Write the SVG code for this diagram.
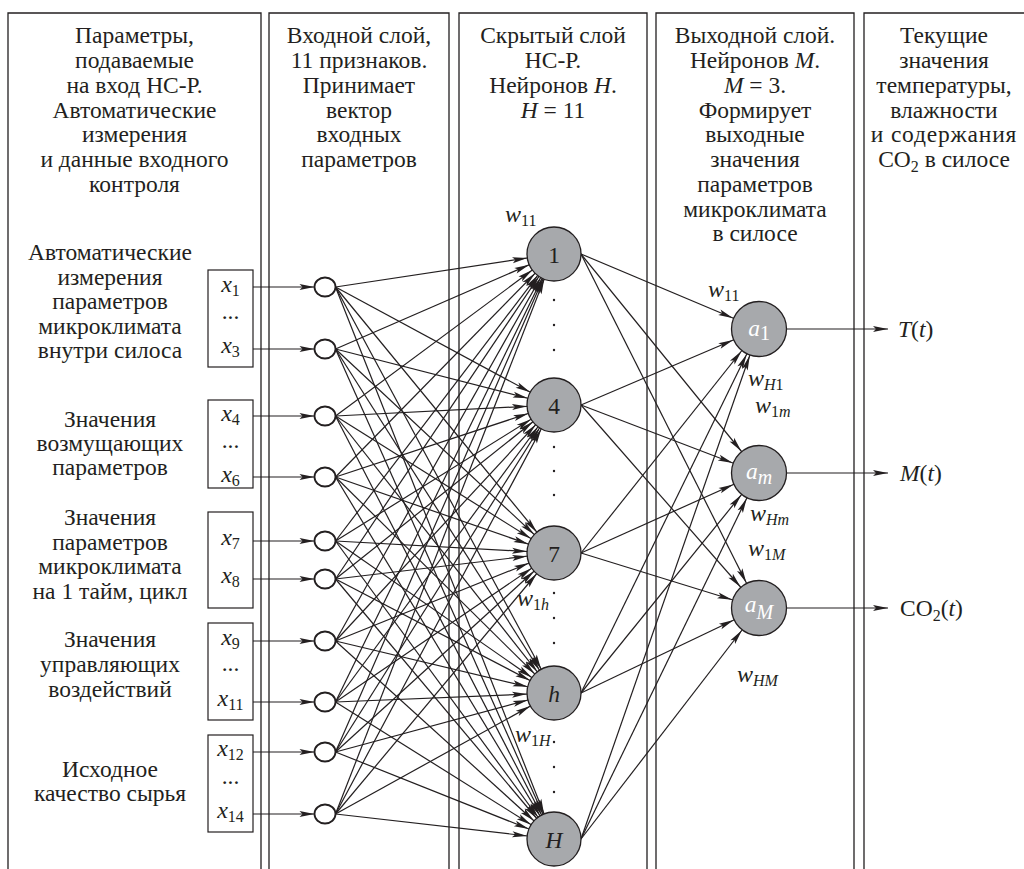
<svg xmlns="http://www.w3.org/2000/svg" width="1024" height="869" viewBox="0 0 1024 869">
<style>
text{font-family:"Liberation Serif","Times New Roman",serif;font-size:23.5px;fill:#231f20}
.c{text-anchor:middle}
.i{font-style:italic}
.sb{font-size:16px;font-style:normal}
.si{font-size:16px;font-style:italic}
.xl{font-size:24px;font-style:italic}
.wl{font-size:24px;font-style:italic}
.col{fill:none;stroke:#231f20;stroke-width:1.3}
.box{fill:#fff;stroke:#231f20;stroke-width:1.2}
.inn{fill:#fff;stroke:#231f20;stroke-width:1.8}
.hid{fill:#a7a9ac;stroke:#231f20;stroke-width:1.3}
.cn line{stroke:#231f20;stroke-width:1.2}
.dot{fill:#231f20}
.wt{fill:#fff}
</style>
<defs>
<marker id="ah" markerUnits="userSpaceOnUse" markerWidth="16" markerHeight="8" refX="15" refY="3" orient="auto" overflow="visible"><path d="M0,0 L15,3 L0,6 L3,3 Z" fill="#231f20"/></marker>
<marker id="ahH" markerUnits="userSpaceOnUse" markerWidth="16" markerHeight="8" refX="42" refY="3" orient="auto" overflow="visible"><path d="M0,0 L15,3 L0,6 L3,3 Z" fill="#231f20"/></marker>
<marker id="ahO" markerUnits="userSpaceOnUse" markerWidth="16" markerHeight="8" refX="43" refY="3" orient="auto" overflow="visible"><path d="M0,0 L15,3 L0,6 L3,3 Z" fill="#231f20"/></marker>
</defs>
<rect width="1024" height="869" fill="#fff"/>
<g id="columns">
<path class="col" d="M8,869 V13 H261 V869"/>
<path class="col" d="M269,869 V13 H449 V869"/>
<path class="col" d="M459,869 V13 H647 V869"/>
<path class="col" d="M656,869 V13 H854 V869"/>
<path class="col" d="M864,869 V13 H1030"/>
</g>
<g id="headers">
<text class="c" x="134.5" y="43">Параметры,</text>
<text class="c" x="134.5" y="68">подаваемые</text>
<text class="c" x="134.5" y="93">на вход НС-Р.</text>
<text class="c" x="134.5" y="118">Автоматические</text>
<text class="c" x="134.5" y="142">измерения</text>
<text class="c" x="134.5" y="167">и данные входного</text>
<text class="c" x="134.5" y="192">контроля</text>
<text class="c" x="359" y="43">Входной слой,</text>
<text class="c" x="359" y="68">11 признаков.</text>
<text class="c" x="359" y="93">Принимает</text>
<text class="c" x="359" y="118">вектор</text>
<text class="c" x="359" y="142">входных</text>
<text class="c" x="359" y="167">параметров</text>
<text class="c" x="553" y="43">Скрытый слой</text>
<text class="c" x="553" y="68">НС-Р.</text>
<text class="c" x="553" y="93">Нейронов <tspan class="i">H</tspan>.</text>
<text class="c" x="553" y="118"><tspan class="i">H</tspan> = 11</text>
<text class="c" x="755" y="43">Выходной слой.</text>
<text class="c" x="755" y="68">Нейронов <tspan class="i">M</tspan>.</text>
<text class="c" x="755" y="93"><tspan class="i">M</tspan> = 3.</text>
<text class="c" x="755" y="118">Формирует</text>
<text class="c" x="755" y="142">выходные</text>
<text class="c" x="755" y="167">значения</text>
<text class="c" x="755" y="192">параметров</text>
<text class="c" x="755" y="217">микроклимата</text>
<text class="c" x="755" y="241">в силосе</text>
<text class="c" x="944" y="43">Текущие</text>
<text class="c" x="944" y="68">значения</text>
<text class="c" x="944" y="93">температуры,</text>
<text class="c" x="944" y="118">влажности</text>
<text class="c" x="944" y="142" letter-spacing="0.8">и содержания</text>
<text class="c" x="944" y="167">CO<tspan class="sb" dy="5">2</tspan><tspan dy="-5"> в силосе</tspan></text>
</g>
<g id="input-groups">
<text class="c" x="110" y="260">Автоматические</text>
<text class="c" x="110" y="284.5">измерения</text>
<text class="c" x="110" y="309">параметров</text>
<text class="c" x="110" y="333.5">микроклимата</text>
<text class="c" x="110" y="358">внутри силоса</text>
<text class="c" x="110" y="427">Значения</text>
<text class="c" x="110" y="451">возмущающих</text>
<text class="c" x="110" y="475">параметров</text>
<text class="c" x="110" y="525">Значения</text>
<text class="c" x="110" y="549.5">параметров</text>
<text class="c" x="110" y="574">микроклимата</text>
<text class="c" x="110" y="598.5">на 1 тайм, цикл</text>
<text class="c" x="110" y="647">Значения</text>
<text class="c" x="110" y="672">управляющих</text>
<text class="c" x="110" y="697">воздействий</text>
<text class="c" x="110" y="777">Исходное</text>
<text class="c" x="110" y="801">качество сырья</text>
</g>
<g id="input-boxes">
<rect class="box" x="208" y="270" width="45" height="97"/>
<rect class="box" x="208" y="400" width="45" height="88"/>
<rect class="box" x="208" y="512" width="45" height="96"/>
<rect class="box" x="208" y="623" width="45" height="97"/>
<rect class="box" x="208" y="735" width="45" height="97"/>
<text class="c xl" x="230.5" y="292">x<tspan class="sb" dy="4">1</tspan></text>
<text class="c" x="230.5" y="319" font-size="16">...</text>
<text class="c xl" x="230.5" y="353">x<tspan class="sb" dy="4">3</tspan></text>
<text class="c xl" x="230.5" y="421">x<tspan class="sb" dy="4">4</tspan></text>
<text class="c" x="230.5" y="448" font-size="16">...</text>
<text class="c xl" x="230.5" y="482">x<tspan class="sb" dy="4">6</tspan></text>
<text class="c xl" x="230.5" y="545">x<tspan class="sb" dy="4">7</tspan></text>
<text class="c xl" x="230.5" y="583">x<tspan class="sb" dy="4">8</tspan></text>
<text class="c xl" x="230.5" y="645">x<tspan class="sb" dy="4">9</tspan></text>
<text class="c" x="230.5" y="671" font-size="16">...</text>
<text class="c xl" x="230.5" y="706">x<tspan class="sb" dy="4">11</tspan></text>
<text class="c xl" x="230.5" y="756">x<tspan class="sb" dy="4">12</tspan></text>
<text class="c" x="230.5" y="784" font-size="16">...</text>
<text class="c xl" x="230.5" y="818">x<tspan class="sb" dy="4">14</tspan></text>
</g>
<g id="connectors" class="cn">
<line x1="253" y1="287" x2="314.5" y2="287" marker-end="url(#ah)"/>
<line x1="253" y1="349" x2="314.5" y2="349" marker-end="url(#ah)"/>
<line x1="253" y1="416" x2="314.5" y2="416" marker-end="url(#ah)"/>
<line x1="253" y1="477" x2="314.5" y2="477" marker-end="url(#ah)"/>
<line x1="253" y1="541" x2="314.5" y2="541" marker-end="url(#ah)"/>
<line x1="253" y1="579" x2="314.5" y2="579" marker-end="url(#ah)"/>
<line x1="253" y1="641" x2="314.5" y2="641" marker-end="url(#ah)"/>
<line x1="253" y1="702" x2="314.5" y2="702" marker-end="url(#ah)"/>
<line x1="253" y1="752" x2="314.5" y2="752" marker-end="url(#ah)"/>
<line x1="253" y1="814" x2="314.5" y2="814" marker-end="url(#ah)"/>
<g marker-end="url(#ahH)">
<line x1="335.5" y1="287" x2="554" y2="254"/><line x1="335.5" y1="287" x2="554" y2="405"/><line x1="335.5" y1="287" x2="554" y2="553"/><line x1="335.5" y1="287" x2="554" y2="693"/><line x1="335.5" y1="287" x2="554" y2="839"/>
<line x1="335.5" y1="349" x2="554" y2="254"/><line x1="335.5" y1="349" x2="554" y2="405"/><line x1="335.5" y1="349" x2="554" y2="553"/><line x1="335.5" y1="349" x2="554" y2="693"/><line x1="335.5" y1="349" x2="554" y2="839"/>
<line x1="335.5" y1="416" x2="554" y2="254"/><line x1="335.5" y1="416" x2="554" y2="405"/><line x1="335.5" y1="416" x2="554" y2="553"/><line x1="335.5" y1="416" x2="554" y2="693"/><line x1="335.5" y1="416" x2="554" y2="839"/>
<line x1="335.5" y1="477" x2="554" y2="254"/><line x1="335.5" y1="477" x2="554" y2="405"/><line x1="335.5" y1="477" x2="554" y2="553"/><line x1="335.5" y1="477" x2="554" y2="693"/><line x1="335.5" y1="477" x2="554" y2="839"/>
<line x1="335.5" y1="541" x2="554" y2="254"/><line x1="335.5" y1="541" x2="554" y2="405"/><line x1="335.5" y1="541" x2="554" y2="553"/><line x1="335.5" y1="541" x2="554" y2="693"/><line x1="335.5" y1="541" x2="554" y2="839"/>
<line x1="335.5" y1="579" x2="554" y2="254"/><line x1="335.5" y1="579" x2="554" y2="405"/><line x1="335.5" y1="579" x2="554" y2="553"/><line x1="335.5" y1="579" x2="554" y2="693"/><line x1="335.5" y1="579" x2="554" y2="839"/>
<line x1="335.5" y1="641" x2="554" y2="254"/><line x1="335.5" y1="641" x2="554" y2="405"/><line x1="335.5" y1="641" x2="554" y2="553"/><line x1="335.5" y1="641" x2="554" y2="693"/><line x1="335.5" y1="641" x2="554" y2="839"/>
<line x1="335.5" y1="702" x2="554" y2="254"/><line x1="335.5" y1="702" x2="554" y2="405"/><line x1="335.5" y1="702" x2="554" y2="553"/><line x1="335.5" y1="702" x2="554" y2="693"/><line x1="335.5" y1="702" x2="554" y2="839"/>
<line x1="335.5" y1="752" x2="554" y2="254"/><line x1="335.5" y1="752" x2="554" y2="405"/><line x1="335.5" y1="752" x2="554" y2="553"/><line x1="335.5" y1="752" x2="554" y2="693"/><line x1="335.5" y1="752" x2="554" y2="839"/>
<line x1="335.5" y1="814" x2="554" y2="254"/><line x1="335.5" y1="814" x2="554" y2="405"/><line x1="335.5" y1="814" x2="554" y2="553"/><line x1="335.5" y1="814" x2="554" y2="693"/><line x1="335.5" y1="814" x2="554" y2="839"/>
</g>
<g marker-end="url(#ahO)">
<line x1="581" y1="254" x2="759" y2="329"/><line x1="581" y1="254" x2="759" y2="473"/><line x1="581" y1="254" x2="759" y2="608"/>
<line x1="581" y1="405" x2="759" y2="329"/><line x1="581" y1="405" x2="759" y2="473"/><line x1="581" y1="405" x2="759" y2="608"/>
<line x1="581" y1="553" x2="759" y2="329"/><line x1="581" y1="553" x2="759" y2="473"/><line x1="581" y1="553" x2="759" y2="608"/>
<line x1="581" y1="693" x2="759" y2="329"/><line x1="581" y1="693" x2="759" y2="473"/><line x1="581" y1="693" x2="759" y2="608"/>
<line x1="581" y1="839" x2="759" y2="329"/><line x1="581" y1="839" x2="759" y2="473"/><line x1="581" y1="839" x2="759" y2="608"/>
</g>
<line x1="787" y1="329" x2="888" y2="329" marker-end="url(#ah)"/>
<line x1="787" y1="473" x2="888" y2="473" marker-end="url(#ah)"/>
<line x1="787" y1="608" x2="888" y2="608" marker-end="url(#ah)"/>
</g>
<g id="input-neurons">
<ellipse class="inn" cx="325" cy="287" rx="10.5" ry="9.5"/>
<ellipse class="inn" cx="325" cy="349" rx="10.5" ry="9.5"/>
<ellipse class="inn" cx="325" cy="416" rx="10.5" ry="9.5"/>
<ellipse class="inn" cx="325" cy="477" rx="10.5" ry="9.5"/>
<ellipse class="inn" cx="325" cy="541" rx="10.5" ry="9.5"/>
<ellipse class="inn" cx="325" cy="579" rx="10.5" ry="9.5"/>
<ellipse class="inn" cx="325" cy="641" rx="10.5" ry="9.5"/>
<ellipse class="inn" cx="325" cy="702" rx="10.5" ry="9.5"/>
<ellipse class="inn" cx="325" cy="752" rx="10.5" ry="9.5"/>
<ellipse class="inn" cx="325" cy="814" rx="10.5" ry="9.5"/>
</g>
<g id="hidden-1"><circle class="hid" cx="554" cy="254" r="27"/><text class="c" x="554" y="263" font-size="26">1</text></g>
<g id="hidden-4"><circle class="hid" cx="554" cy="405" r="27"/><text class="c" x="554" y="414" font-size="26">4</text></g>
<g id="hidden-7"><circle class="hid" cx="554" cy="553" r="27"/><text class="c" x="554" y="562" font-size="26">7</text></g>
<g id="hidden-h"><circle class="hid" cx="554" cy="693" r="27"/><text class="c i" x="554" y="702" font-size="26">h</text></g>
<g id="hidden-H"><circle class="hid" cx="554" cy="839" r="27"/><text class="c i" x="554" y="848" font-size="26">H</text></g>
<g id="hidden-dots">
<circle class="dot" cx="554" cy="300" r="1.2"/><circle class="dot" cx="554" cy="325" r="1.2"/><circle class="dot" cx="554" cy="350" r="1.2"/>
<circle class="dot" cx="554" cy="447" r="1.2"/><circle class="dot" cx="554" cy="471" r="1.2"/><circle class="dot" cx="554" cy="495" r="1.2"/>
<circle class="dot" cx="554" cy="593" r="1.2"/><circle class="dot" cx="554" cy="618" r="1.2"/><circle class="dot" cx="554" cy="643" r="1.2"/>
<circle class="dot" cx="554" cy="742" r="1.2"/><circle class="dot" cx="554" cy="767" r="1.2"/><circle class="dot" cx="554" cy="792" r="1.2"/>
</g>
<g id="output-a1"><circle class="hid" cx="759" cy="329" r="27.5"/><text class="c i wt" x="759" y="336" font-size="27">a<tspan class="wt" font-size="20" font-style="normal" dy="4">1</tspan></text></g>
<g id="output-am"><circle class="hid" cx="759" cy="473" r="27.5"/><text class="c i wt" x="759" y="479" font-size="27">a<tspan class="wt" font-size="20" dy="5">m</tspan></text></g>
<g id="output-aM"><circle class="hid" cx="759" cy="608" r="27.5"/><text class="c i wt" x="759" y="612" font-size="27">a<tspan class="wt" font-size="20" dy="7">M</tspan></text></g>
<g id="outputs">
<text class="i" x="898" y="337">T<tspan font-style="normal">(</tspan>t<tspan font-style="normal">)</tspan></text>
<text class="i" x="900" y="481">M<tspan font-style="normal">(</tspan>t<tspan font-style="normal">)</tspan></text>
<text x="900" y="616">CO<tspan class="sb" dy="5">2</tspan><tspan dy="-5">(</tspan><tspan class="i">t</tspan>)</text>
</g>
<g id="weights">
<text class="wl" x="505" y="222">w<tspan class="sb" dy="4">11</tspan></text>
<text class="wl" x="708" y="297">w<tspan class="sb" dy="4">11</tspan></text>
<text class="wl" x="748" y="386">w<tspan class="si" dy="4">H</tspan><tspan class="sb">1</tspan></text>
<text class="wl" x="755" y="413">w<tspan class="sb" dy="4">1</tspan><tspan class="si">m</tspan></text>
<text class="wl" x="750" y="521">w<tspan class="si" dy="4">Hm</tspan></text>
<text class="wl" x="748" y="556">w<tspan class="sb" dy="4">1</tspan><tspan class="si">M</tspan></text>
<text class="wl" x="737" y="682">w<tspan class="si" dy="4">HM</tspan></text>
<text class="wl" x="517" y="606">w<tspan class="sb" dy="4">1</tspan><tspan class="si">h</tspan></text>
<text class="wl" x="515" y="742">w<tspan class="sb" dy="4">1</tspan><tspan class="si">H</tspan></text>
</g>
</svg>
